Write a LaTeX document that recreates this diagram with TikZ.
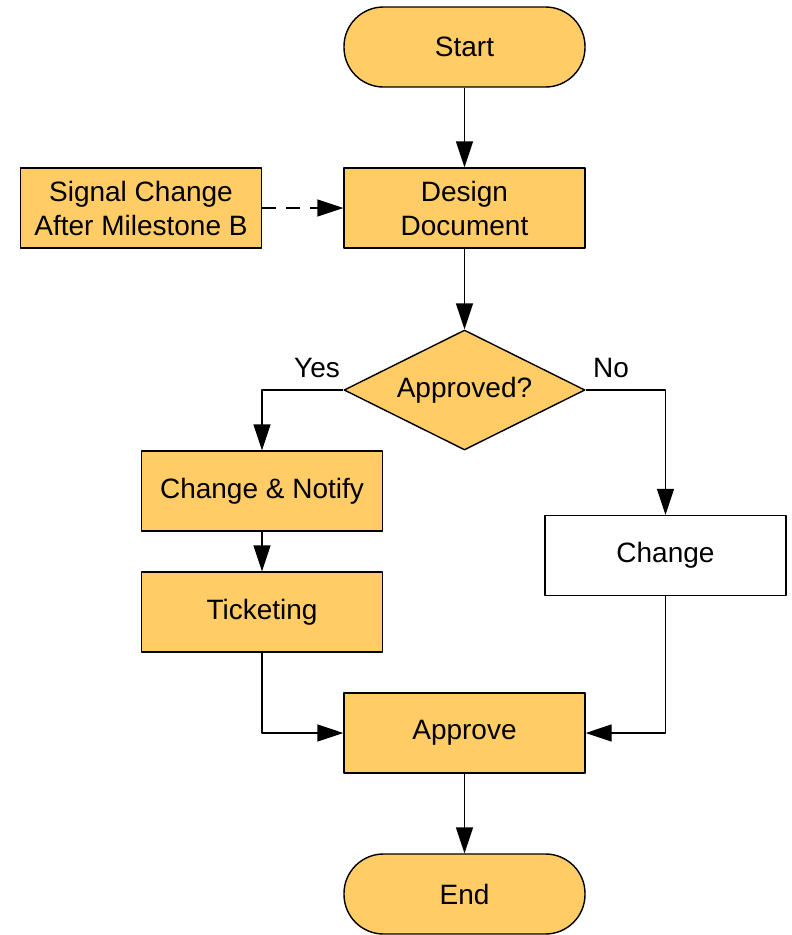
\documentclass[tikz,border=0pt]{standalone}
\usepackage{fontspec}
\setmainfont{Liberation Sans}
\usetikzlibrary{arrows.meta,shapes.geometric}
\definecolor{boxfill}{RGB}{255,204,102}

\begin{document}
\begin{tikzpicture}[x=1pt,y=-1pt,>={Triangle[length=26pt,width=17pt]},line join=round,
  box/.style={draw,line width=1.4pt,fill=boxfill,minimum width=241pt,minimum height=80pt,
    inner sep=0pt,align=center,font=\fontsize{28}{34}\selectfont},
  term/.style={box,rounded corners=39.5pt},
  decision/.style={box,diamond,aspect=2,minimum height=120pt},
  flow/.style={->,line width=1.4pt},
  lbl/.style={font=\fontsize{28}{34}\selectfont}]
  \useasboundingbox (0,0) rectangle (792,935);
  % boxes
  \node[term] (start) at (464.5,47) {Start};
  \node[box] (design) at (464.5,208) {Design\\Document};
  \node[box] (signal) at (141,208) {Signal Change\\After Milestone B};
  \node[decision] (approved) at (464.5,390) {Approved?};
  \node[box] (notify) at (262,491) {Change \& Notify};
  \node[box] (ticket) at (262,612) {Ticketing};
  \node[box,fill=white] (change) at (665.5,555.5) {Change};
  \node[box] (approve) at (464.5,733) {Approve};
  \node[term] (end) at (464.5,894) {End};
  \node[lbl] (yes) at (317,368) {Yes};
  \node[lbl] (no) at (611,368) {No};
  % connectors
  \draw[flow] (start) -- (design);
  \draw[flow,dash pattern=on 14pt off 10pt] (signal) -- (design);
  \draw[flow] (design) -- (approved);
  \draw[flow] (approved.west) -| (notify);
  \draw[flow] (approved.east) -| (change);
  \draw[flow] (notify) -- (ticket);
  \draw[flow] (ticket) |- (approve);
  \draw[flow] (change) |- (approve);
  \draw[flow] (approve) -- (end);
\end{tikzpicture}
\end{document}
